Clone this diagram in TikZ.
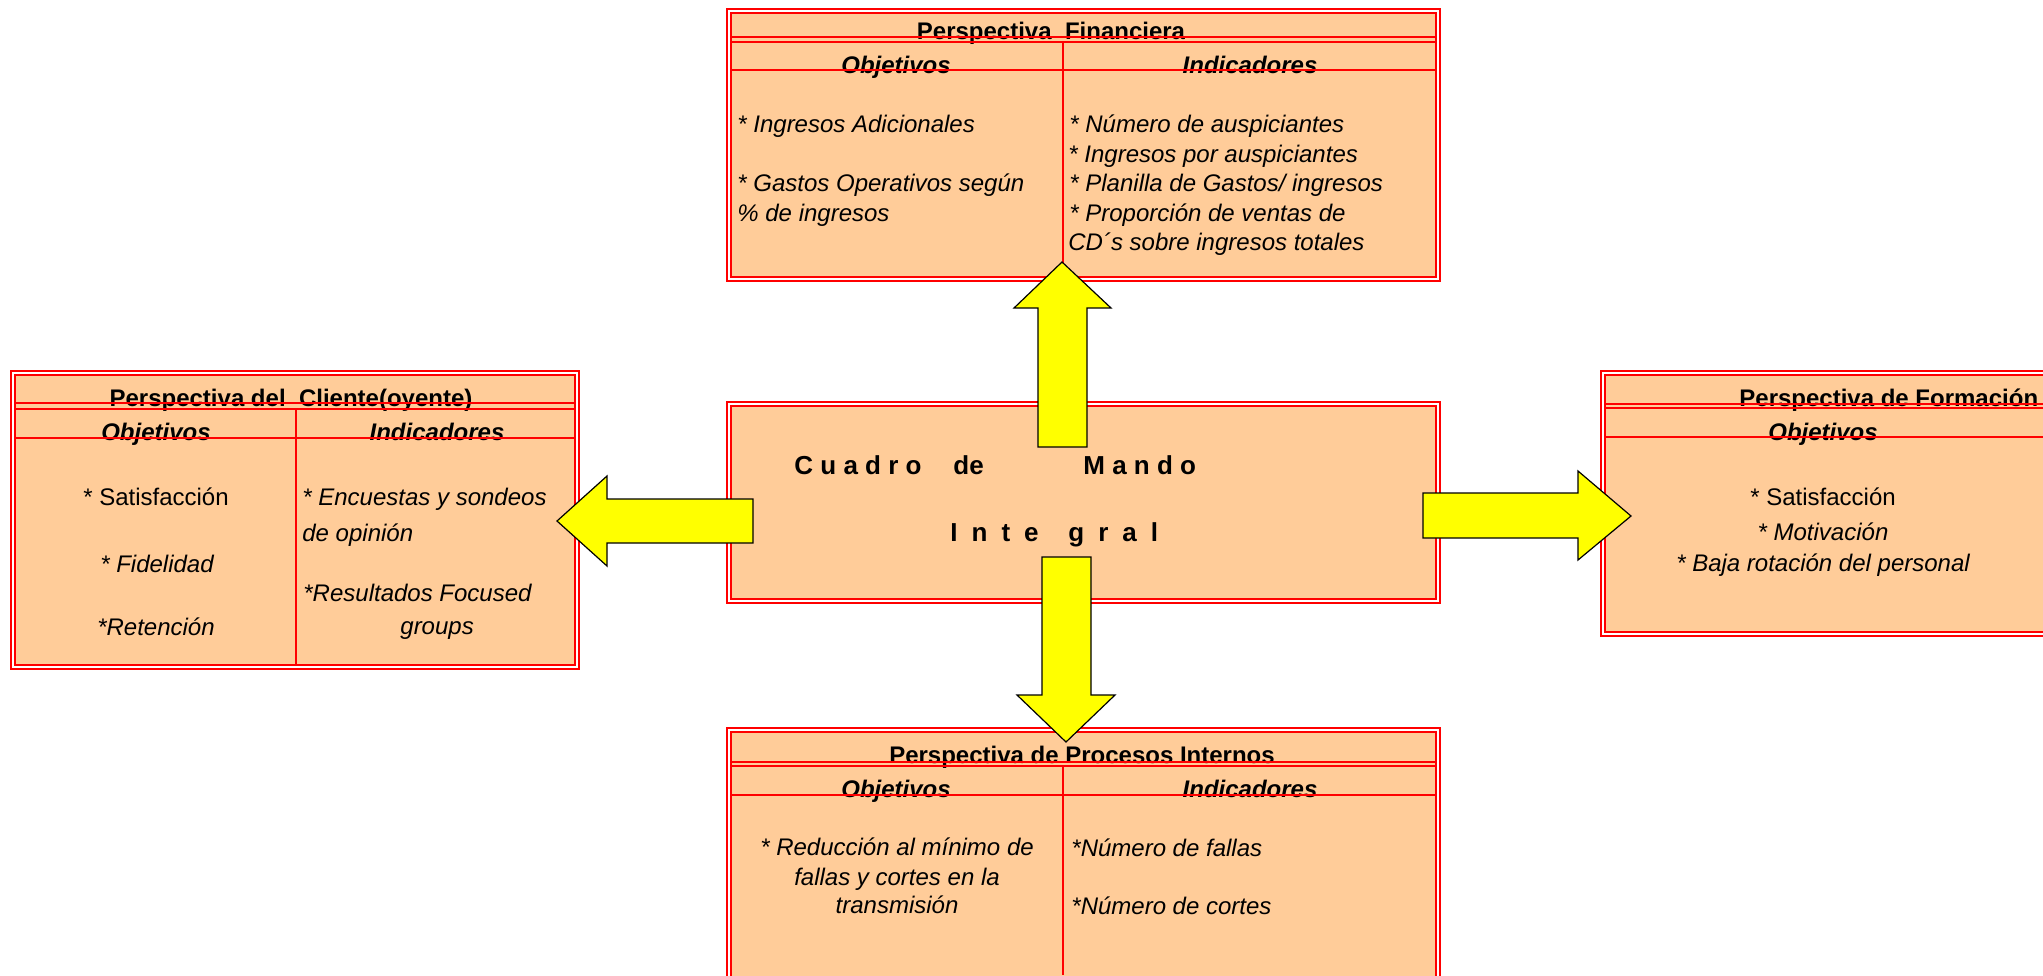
\documentclass[tikz,border=0pt]{standalone}
\usepackage{fontspec}
\setmainfont{Liberation Sans}
\definecolor{durazno}{RGB}{255, 204, 153}
\definecolor{amarillo}{RGB}{255, 255, 0}
\usepackage{tikz}
\newcommand{\esp}{\hspace{7pt}}

\begin{document}
\begin{tikzpicture}[x=0.5pt, y=-0.5pt,
  marco/.style={draw=red, line width=1.1pt, double=white, double distance=0.6pt, fill=durazno, inner sep=0pt, outer sep=0pt},
  raya/.style={draw=red, line width=1.2pt},
  titulo/.style={font=\bfseries\fontsize{12}{14}\selectfont, anchor=base, inner sep=0pt},
  cabeza/.style={font=\bfseries\itshape\fontsize{12}{14}\selectfont, anchor=base, inner sep=0pt},
  texto/.style={font=\itshape\fontsize{12}{14}\selectfont, anchor=base west, inner sep=0pt},
  textoc/.style={texto, anchor=base},
  recto/.style={font=\fontsize{12}{14}\selectfont, anchor=base, inner sep=0pt},
  cmitxt/.style={font=\bfseries\fontsize{13}{15}\selectfont, anchor=base west, inner sep=0pt},
  flecha/.style={fill=amarillo, draw=black, line width=0.6pt, line join=miter}]
  \useasboundingbox (0,0) rectangle (2043,975);
  \clip (0,0) rectangle (2043,975);

  % cajas
  \node[marco, minimum width=354.5pt, minimum height=134pt] (fin) at (1083.5,145) {};
  \node[marco, minimum width=354.5pt, minimum height=98.5pt] (cmi) at (1083.5,502.5) {};
  \node[marco, minimum width=354.5pt, minimum height=135pt] (proc) at (1083.5,865) {};
  \node[marco, minimum width=282pt, minimum height=147pt] (cli) at (295,520) {};
  \node[marco, minimum width=238.5pt, minimum height=130.5pt] (form) at (1841.5,503.5) {};

  % Perspectiva Financiera
  \node[titulo] (finT) at (1051,39) {Perspectiva\ \ Financiera};
  \node[cabeza] (finO) at (896,73) {Objetivos};
  \node[cabeza] (finI) at (1250,73) {Indicadores};
  \node[texto] (finO1) at (737,132) {* Ingresos Adicionales};
  \node[texto] (finO2) at (737,191) {* Gastos Operativos según};
  \node[texto] (finO3) at (737,221) {\% de ingresos};
  \node[texto] (finI1) at (1069,132) {* Número de auspiciantes};
  \node[texto] (finI2) at (1068,162) {* Ingresos por auspiciantes};
  \node[texto] (finI3) at (1069,191) {* Planilla de Gastos/ ingresos};
  \node[texto] (finI4) at (1069,221) {* Proporción de ventas de};
  \node[texto] (finI5) at (1068,250) {CD´s sobre ingresos totales};
  \draw[raya] (731,37) -- (1436,37);
  \draw[raya] (731,42) -- (1436,42);
  \draw[raya] (731,70) -- (1436,70);
  \draw[raya] (1063,42) -- (1063,277);

  % Perspectiva del Cliente
  \node[titulo] (cliT) at (291,406) {Perspectiva del\ \ Cliente(oyente)};
  \node[cabeza] (cliO) at (156,440) {Objetivos};
  \node[cabeza] (cliI) at (437,440) {Indicadores};
  \node[recto] (cliO1) at (156,505) {* Satisfacción};
  \node[textoc] (cliO2) at (157,572) {* Fidelidad};
  \node[textoc] (cliO3) at (156,635) {*Retención};
  \node[texto] (cliI1) at (302,505) {* Encuestas y sondeos};
  \node[texto] (cliI2) at (302,541) {de opinión};
  \node[texto] (cliI3) at (303,601) {*Resultados Focused};
  \node[texto] (cliI4) at (400,634) {groups};
  \draw[raya] (15,403) -- (575,403);
  \draw[raya] (15,409) -- (575,409);
  \draw[raya] (15,438) -- (575,438);
  \draw[raya] (296,409) -- (296,665);

  % Perspectiva de Formacion
  \node[titulo, anchor=base west] (formT) at (1739,406) {Perspectiva de Formación};
  \node[cabeza] (formO) at (1823,440) {Objetivos};
  \node[recto] (formO1) at (1823,505) {* Satisfacción};
  \node[textoc] (formO2) at (1823,540) {* Motivación};
  \node[textoc] (formO3) at (1823,571) {* Baja rotación del personal};
  \draw[raya] (1605,404) -- (2043,404);
  \draw[raya] (1605,408) -- (2043,408);
  \draw[raya] (1605,437) -- (2043,437);

  % Perspectiva de Procesos Internos
  \node[titulo] (procT) at (1082,763) {Perspectiva de Procesos Internos};
  \node[cabeza] (procO) at (896,797) {Objetivos};
  \node[cabeza] (procI) at (1250,797) {Indicadores};
  \node[textoc] (procO1) at (897,855) {* Reducción al mínimo de};
  \node[textoc] (procO2) at (897,885) {fallas y cortes en la};
  \node[textoc] (procO3) at (897,913) {transmisión};
  \node[texto] (procI1) at (1071,856) {*Número de fallas};
  \node[texto] (procI2) at (1071,914) {*Número de cortes};
  \draw[raya] (731,762) -- (1436,762);
  \draw[raya] (731,766) -- (1436,766);
  \draw[raya] (731,795) -- (1436,795);
  \draw[raya] (1063,766) -- (1063,975);

  % Cuadro de Mando Integral
  \node[cmitxt] (cmi1) at (794,474) {C u a d r o};
  \node[cmitxt] (cmi2) at (953,474) {de};
  \node[cmitxt] (cmi3) at (1083,474) {M a n d o};
  \node[cmitxt] (cmi4) at (950,541) {I\esp n\esp t\esp e};
  \node[cmitxt] (cmi5) at (1068,541) {g\esp r\esp a\esp l};

  % flechas
  \filldraw[flecha] (1038,447) -- (1038,308) -- (1014,308) -- (1062,262) -- (1111,308) -- (1087,308) -- (1087,447) -- cycle;
  \filldraw[flecha] (1042,557) -- (1091,557) -- (1091,695) -- (1115,695) -- (1066,742) -- (1017,695) -- (1042,695) -- cycle;
  \filldraw[flecha] (753,499) -- (607,499) -- (607,476) -- (557,521) -- (607,566) -- (607,543) -- (753,543) -- cycle;
  \filldraw[flecha] (1423,493) -- (1578,493) -- (1578,471) -- (1631,516) -- (1578,560) -- (1578,538) -- (1423,538) -- cycle;
\end{tikzpicture}
\end{document}
